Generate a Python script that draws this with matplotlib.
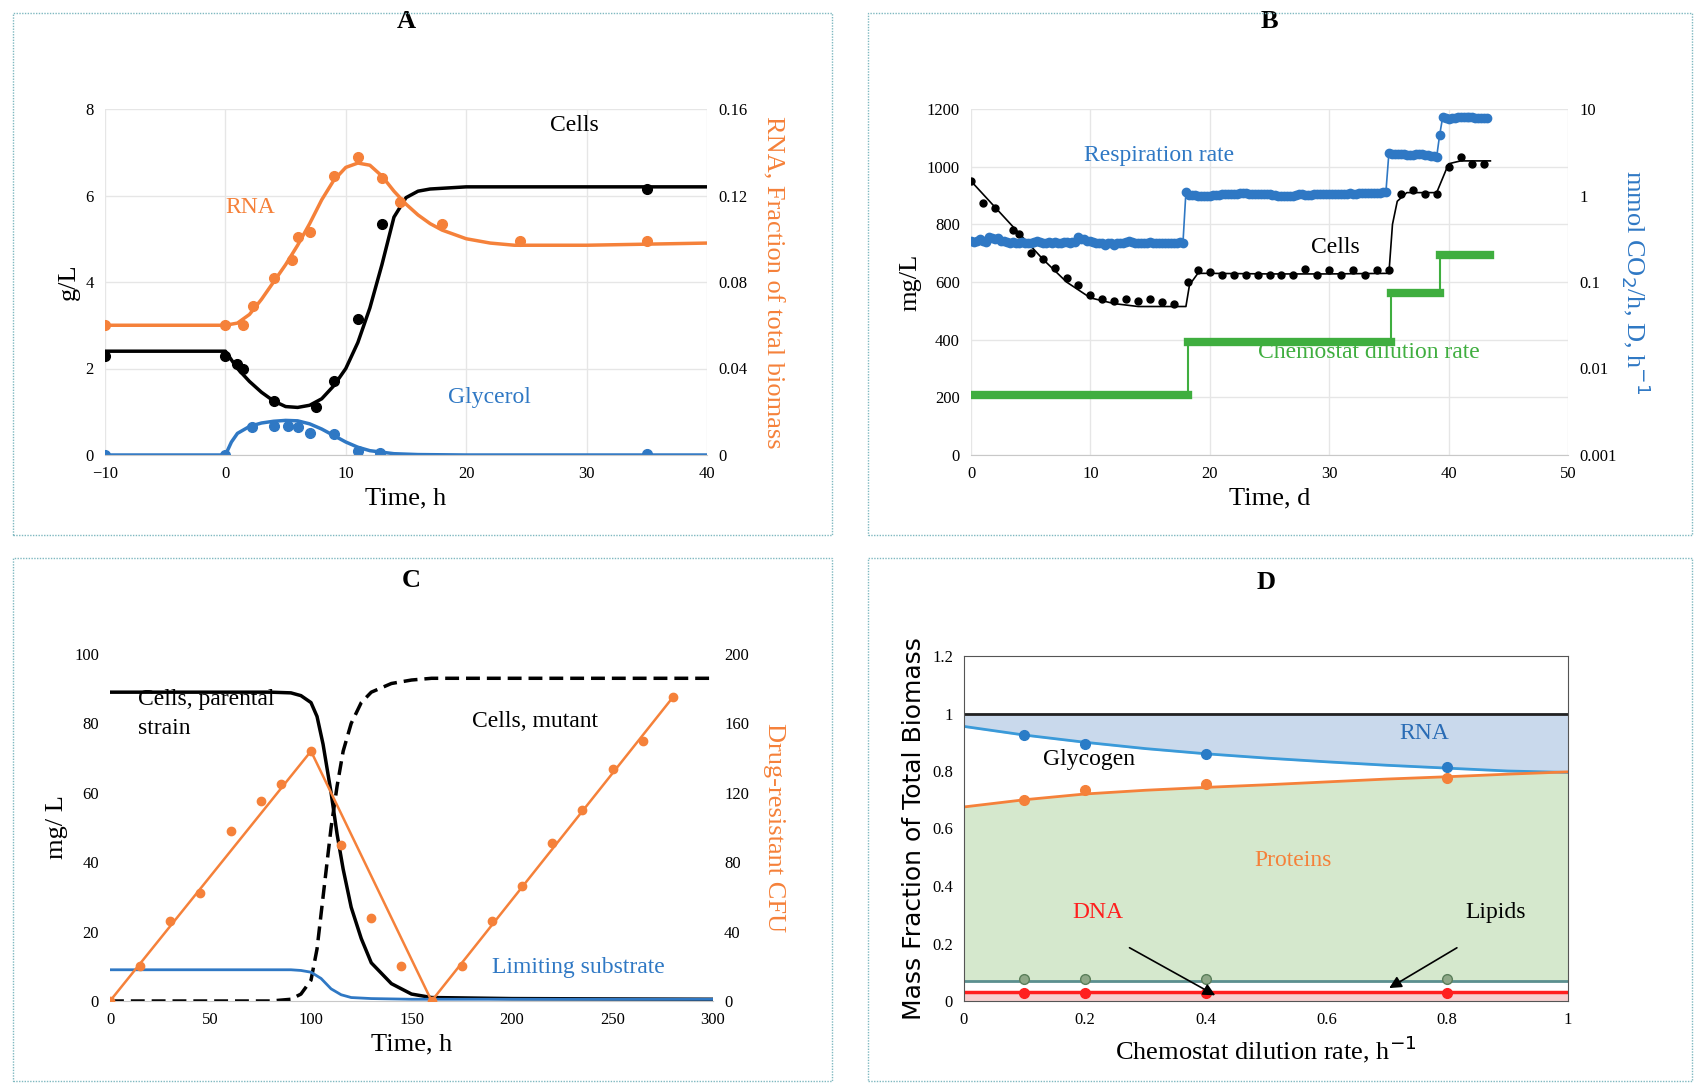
import numpy as np
import matplotlib
matplotlib.use("Agg")
import matplotlib.pyplot as plt
from matplotlib.patches import Rectangle

plt.rcParams['font.family'] = ['Liberation Serif', 'DejaVu Serif']

BLACK = '#000000'; ORANGE = '#f5813a'; BLUE = '#2f78c4'; GREEN = '#3fae3f'; RED = '#ff1f1f'

# ---------------- Panel A data ----------------
A_cells_pt_t = [-10, 0, 1, 1.5, 4, 7.5, 9, 11, 13, 35]
A_cells_pt_y = [2.3, 2.3, 2.1, 2.0, 1.25, 1.1, 1.7, 3.15, 5.35, 6.15]
A_cells_t = [-10, 0, 1, 2, 3, 4, 5, 6, 7, 8, 9, 10, 11, 12, 13, 14, 15, 16, 17, 20, 30, 40]
A_cells_y = [2.4, 2.4, 2.0, 1.7, 1.45, 1.25, 1.12, 1.1, 1.15, 1.3, 1.6, 2.0, 2.6, 3.4, 4.4, 5.5, 5.95, 6.1, 6.15, 6.2, 6.2, 6.2]
A_rna_pt_t = [-10, 0, 1.5, 2.3, 4, 5.5, 6, 7, 9, 11, 13, 14.5, 18, 24.5, 35]
A_rna_pt_y = [0.06, 0.06, 0.06, 0.069, 0.082, 0.09, 0.101, 0.103, 0.129, 0.138, 0.128, 0.117, 0.107, 0.099, 0.099]
A_rna_t = [-10, 0, 1, 2, 3, 4, 5, 6, 7, 8, 9, 10, 11, 12, 13, 14, 15, 16, 17, 18, 20, 22, 24, 26, 30, 40]
A_rna_y = [0.06, 0.06, 0.061, 0.065, 0.072, 0.08, 0.088, 0.097, 0.107, 0.118, 0.127, 0.133, 0.135, 0.134, 0.129,
           0.122, 0.116, 0.111, 0.107, 0.104, 0.1, 0.098, 0.097, 0.097, 0.097, 0.098]
A_gly_pt_t = [-10, 0, 2.2, 4, 5.2, 6, 7, 9, 11, 12.8, 35]
A_gly_pt_y = [0, 0, 0.65, 0.68, 0.68, 0.65, 0.5, 0.48, 0.1, 0.05, 0.02]
A_gly_t = [-10, 0, 0.5, 1, 2, 3, 4, 5, 6, 7, 8, 9, 10, 11, 12, 14, 16, 20, 40]
A_gly_y = [0, 0, 0.3, 0.5, 0.66, 0.74, 0.78, 0.8, 0.79, 0.72, 0.6, 0.45, 0.3, 0.18, 0.1, 0.03, 0.01, 0, 0]

# ---------------- Panel B data ----------------
B_cells_pt_t = [0, 1, 2, 3.5, 4, 5, 6, 7, 8, 9, 10, 11, 12, 13, 14, 15, 16, 17, 18.2, 19, 20, 21, 22, 23, 24, 25, 26,
                27, 28, 29, 30, 31, 32, 33, 34, 35, 36, 37, 38, 39, 40, 41, 42, 43]
B_cells_pt_y = [950, 875, 855, 780, 765, 700, 680, 650, 615, 590, 555, 540, 535, 540, 535, 540, 530, 525, 600, 640,
                635, 625, 625, 625, 625, 625, 625, 625, 645, 625, 640, 625, 640, 625, 640, 640, 905, 920, 905, 905,
                1000, 1035, 1010, 1010]
B_cells_t = [0, 2, 4, 6, 8, 10, 12, 14, 16, 18, 18.3, 19, 20, 25, 30, 35, 35.3, 35.7, 36.5, 39, 39.5, 40, 41, 43.5]
B_cells_y = [950, 860, 770, 680, 600, 545, 525, 515, 515, 515, 590, 630, 630, 628, 628, 630, 800, 880, 910, 910, 960,
             1010, 1020, 1020]
B_resp_t = np.arange(0, 43.5, 0.25)
B_resp_seg1 = [0.30, 0.29, 0.30, 0.31, 0.30, 0.29, 0.33, 0.32, 0.31, 0.32, 0.30, 0.30, 0.29, 0.28, 0.29, 0.28, 0.28,
               0.29, 0.28, 0.28, 0.28, 0.29, 0.30, 0.29, 0.28, 0.28, 0.29, 0.28, 0.29, 0.28, 0.28, 0.29, 0.29, 0.28,
               0.29, 0.29, 0.33, 0.31, 0.31, 0.30, 0.30, 0.29, 0.28, 0.28, 0.28, 0.27, 0.28, 0.28, 0.27, 0.28, 0.28,
               0.28, 0.29, 0.30, 0.29, 0.28, 0.28, 0.28, 0.28, 0.28, 0.29, 0.28, 0.28, 0.28, 0.28, 0.28, 0.28, 0.28,
               0.28, 0.28, 0.29, 0.28]
B_resp_seg2 = [1.10, 1.02, 1.02, 1.01, 1.0, 0.99, 0.99, 1.0, 1.0, 1.01, 1.02, 1.02, 1.03, 1.03, 1.04, 1.05, 1.05,
               1.05, 1.06, 1.06, 1.06, 1.05, 1.05, 1.05, 1.05, 1.04, 1.04, 1.03, 1.03, 1.02, 1.01, 1.0, 0.99, 0.98,
               0.98, 0.99, 1.0, 1.02, 1.03, 1.03, 1.02, 1.02, 1.02, 1.03, 1.03, 1.03, 1.04, 1.04, 1.03, 1.04, 1.04,
               1.05, 1.04, 1.05, 1.05, 1.06, 1.05, 1.05, 1.06, 1.06, 1.06, 1.06, 1.06, 1.07, 1.07, 1.08, 1.09, 1.1]
B_resp_seg3 = [3.1, 3.0, 3.0, 3.0, 3.0, 3.0, 2.95, 2.95, 2.95, 3.0, 3.0, 3.0, 2.95, 2.95, 2.9, 2.9, 2.8]
B_resp_seg4 = [5.0, 8.0, 7.8, 7.7, 7.8, 7.9, 8.0, 8.1, 8.0, 8.0, 8.0, 8.0, 7.9, 7.9, 7.9, 7.9, 7.8]
B_resp_y = B_resp_seg1 + B_resp_seg2 + B_resp_seg3 + B_resp_seg4
B_D_t = [0, 18.2, 18.2, 35.2, 35.2, 39.3, 39.3, 43.5]
B_D_y = [0.005, 0.005, 0.0205, 0.0205, 0.074, 0.074, 0.205, 0.205]

# ---------------- Panel C data ----------------
C_par_t = [0, 50, 80, 90, 95, 100, 103, 106, 110, 113, 116, 120, 125, 130, 140, 150, 160, 200, 300]
C_par_y = [89, 89, 89, 88.8, 88, 86, 82, 74, 60, 48, 38, 27, 18, 11, 5, 2, 1, 0.7, 0.5]
C_mut_t = [0, 80, 90, 95, 100, 103, 106, 110, 113, 116, 120, 125, 130, 140, 150, 160, 200, 300]
C_mut_y = [0, 0, 0.5, 2, 6, 15, 30, 50, 62, 72, 80, 86, 89, 91.5, 92.5, 93, 93, 93]
C_cfu_t = [0, 100, 160, 280]
C_cfu_y = [0, 144, 0, 175]
C_cfu_pt_t = [0, 15, 30, 45, 60, 75, 85, 100, 115, 130, 145, 160, 175, 190, 205, 220, 235, 250, 265, 280]
C_cfu_pt_y = [0, 20, 46, 62, 98, 115, 125, 144, 90, 48, 20, 0, 20, 46, 66, 91, 110, 134, 150, 175]
C_sub_t = [0, 90, 95, 100, 105, 110, 115, 120, 130, 150, 300]
C_sub_y = [9, 9, 8.8, 8.3, 6.5, 3.5, 1.8, 1, 0.7, 0.5, 0.5]

# ---------------- Panel D data ----------------
D_x = [0, 0.1, 0.2, 0.3, 0.4, 0.5, 0.6, 0.7, 0.8, 0.9, 1.0]
D_rna_low = [0.955, 0.925, 0.9, 0.878, 0.86, 0.845, 0.832, 0.82, 0.81, 0.8, 0.795]
D_prot_top = [0.675, 0.7, 0.72, 0.733, 0.743, 0.752, 0.762, 0.772, 0.78, 0.789, 0.797]
D_pt_x = [0.1, 0.2, 0.4, 0.8]
D_rna_pt = [0.925, 0.895, 0.86, 0.815]
D_prot_pt = [0.7, 0.735, 0.755, 0.775]
D_lipid = 0.07
D_lipid_pt = [0.075, 0.075, 0.075, 0.075]
D_dna = 0.03
D_dna_pt = [0.028, 0.028, 0.028, 0.028]

W, H = 1700, 1088
fig = plt.figure(figsize=(17, 10.88), dpi=100)

def px(x0, y0, x1, y1):
    return [x0 / W, 1 - y1 / H, (x1 - x0) / W, (y1 - y0) / H]

for (x0, y0, x1, y1) in [(13, 13, 832, 535), (868, 13, 1692, 535), (13, 558, 832, 1081), (868, 558, 1692, 1081)]:
    fig.patches.append(Rectangle((x0 / W, 1 - y1 / H), (x1 - x0) / W, (y1 - y0) / H, transform=fig.transFigure,
                                 fill=False, ec='#7fb8c0', lw=1.0, ls=(0, (1, 1))))

def style(ax, grid=True):
    for s in ['top', 'right', 'left']:
        ax.spines[s].set_visible(False)
    ax.spines['bottom'].set_color('#c8c8c8')
    ax.tick_params(length=0, labelsize=12, pad=8)
    if grid:
        ax.grid(True, color='#e6e6e6', lw=1)
        ax.set_axisbelow(True)

# ---------- A ----------
ax = fig.add_axes(px(105, 109, 707, 455))
style(ax)
ax.set_xlim(-10, 40); ax.set_ylim(0, 8)
ax.set_xticks(range(-10, 41, 10)); ax.set_yticks(range(0, 9, 2))
ax2 = ax.twinx()
ax2.set_ylim(0, 0.16); ax2.set_yticks([0, 0.04, 0.08, 0.12, 0.16])
ax2.set_yticklabels(['0', '0.04', '0.08', '0.12', '0.16'])
for s in ax2.spines.values(): s.set_visible(False)
ax2.tick_params(length=0, labelsize=12, pad=8)
ax.plot(A_cells_t, A_cells_y, color=BLACK, lw=2.5)
ax.plot(A_cells_pt_t, A_cells_pt_y, 'o', color=BLACK, ms=7)
ax.plot(A_gly_t, A_gly_y, color=BLUE, lw=2.5)
ax.plot(A_gly_pt_t, A_gly_pt_y, 'o', color=BLUE, ms=7)
ax2.plot(A_rna_t, A_rna_y, color=ORANGE, lw=2.5)
ax2.plot(A_rna_pt_t, A_rna_pt_y, 'o', color=ORANGE, ms=7)
ax.text(27, 7.5, 'Cells', fontsize=17, color=BLACK)
ax.text(0, 5.6, 'RNA', fontsize=17, color=ORANGE)
ax.text(18.5, 1.2, 'Glycerol', fontsize=17, color=BLUE)
ax.set_xlabel('Time, h', fontsize=19)
ax.set_ylabel('g/L', fontsize=19)
ax2.set_ylabel('RNA, Fraction of total biomass', fontsize=19, color=ORANGE, rotation=270, labelpad=26)
ax.set_title('A', fontsize=19, fontweight='bold', pad=58)

# ---------- B ----------
ax = fig.add_axes(px(971, 109, 1568, 455))
style(ax)
ax.set_xlim(0, 50); ax.set_ylim(0, 1200)
ax.set_xticks(range(0, 51, 10)); ax.set_yticks(range(0, 1201, 200))
ax2 = ax.twinx()
ax2.set_yscale('log'); ax2.set_ylim(0.001, 10)
ax2.set_yticks([0.001, 0.01, 0.1, 1, 10]); ax2.set_yticklabels(['0.001', '0.01', '0.1', '1', '10'])
ax2.minorticks_off()
for s in ax2.spines.values(): s.set_visible(False)
ax2.tick_params(length=0, labelsize=12, pad=8)
ax2.plot(B_D_t, B_D_y, color=GREEN, lw=1.5)
ax2.plot([0, 18.2], [0.005, 0.005], color=GREEN, lw=6)
ax2.plot([18.2, 35.2], [0.0205, 0.0205], color=GREEN, lw=6)
ax2.plot([35.2, 39.3], [0.074, 0.074], color=GREEN, lw=6)
ax2.plot([39.3, 43.5], [0.205, 0.205], color=GREEN, lw=6)
ax2.plot(B_resp_t, B_resp_y, color=BLUE, lw=1.2, marker='o', ms=6)
ax.plot(B_cells_t, B_cells_y, color=BLACK, lw=1.2)
ax.plot(B_cells_pt_t, B_cells_pt_y, 'o', color=BLACK, ms=5)
ax.text(9.5, 1020, 'Respiration rate', fontsize=17, color=BLUE)
ax.text(28.5, 700, 'Cells', fontsize=17, color=BLACK)
ax.text(24, 335, 'Chemostat dilution rate', fontsize=17, color=GREEN)
ax.set_xlabel('Time, d', fontsize=19)
ax.set_ylabel('mg/L', fontsize=19)
ax2.set_ylabel('mmol CO$_2$/h, D, h$^{-1}$', fontsize=19, color=BLUE, rotation=270, labelpad=26)
ax.set_title('B', fontsize=19, fontweight='bold', pad=58)

# ---------- C ----------
ax = fig.add_axes(px(110, 654, 713, 1001))
style(ax, grid=False)
ax.set_xlim(0, 300); ax.set_ylim(0, 100)
ax.set_xticks(range(0, 301, 50)); ax.set_yticks(range(0, 101, 20))
ax2 = ax.twinx()
ax2.set_ylim(0, 200); ax2.set_yticks(range(0, 201, 40))
for s in ax2.spines.values(): s.set_visible(False)
ax2.tick_params(length=0, labelsize=12, pad=8)
ax.plot(C_par_t, C_par_y, color=BLACK, lw=2.5)
ax.plot(C_mut_t, C_mut_y, color=BLACK, lw=2.5, ls=(0, (4, 2)))
ax.plot(C_sub_t, C_sub_y, color=BLUE, lw=2)
ax2.plot(C_cfu_t, C_cfu_y, color=ORANGE, lw=1.8)
ax2.plot(C_cfu_pt_t, C_cfu_pt_y, 'o', color=ORANGE, ms=6)
ax.text(14, 77, 'Cells, parental\nstrain', fontsize=17, color=BLACK, linespacing=1.5)
ax.text(180, 79, 'Cells, mutant', fontsize=17, color=BLACK)
ax.text(190, 8, 'Limiting substrate', fontsize=17, color=BLUE)
ax.set_xlabel('Time, h', fontsize=19)
ax.set_ylabel('mg/ L', fontsize=19)
ax2.set_ylabel('Drug-resistant CFU', fontsize=19, color=ORANGE, rotation=270, labelpad=26)
ax.set_title('C', fontsize=19, fontweight='bold', pad=48)

# ---------- D ----------
ax = fig.add_axes(px(964, 656, 1568, 1001))
ax.set_xlim(0, 1); ax.set_ylim(0, 1.2)
ax.set_xticks([0, 0.2, 0.4, 0.6, 0.8, 1]); ax.set_xticklabels(['0', '0.2', '0.4', '0.6', '0.8', '1'])
ax.set_yticks([0, 0.2, 0.4, 0.6, 0.8, 1, 1.2]); ax.set_yticklabels(['0', '0.2', '0.4', '0.6', '0.8', '1', '1.2'])
ax.tick_params(length=0, labelsize=12, pad=8)
for s in ax.spines.values(): s.set_color('#555555')
ax.fill_between(D_x, D_rna_low, 1.0, color='#c9d9ec')
ax.fill_between(D_x, D_lipid, D_prot_top, color='#d5e8cd')
ax.fill_between(D_x, 0, D_dna, color='#f6d0d0')
ax.axhline(1.0, color='#222222', lw=2)
ax.plot(D_x, D_rna_low, color='#3a9ad9', lw=2)
ax.plot(D_pt_x, D_rna_pt, 'o', color='#2a7cc7', ms=7)
ax.plot(D_x, D_prot_top, color=ORANGE, lw=2)
ax.plot(D_pt_x, D_prot_pt, 'o', color=ORANGE, ms=7)
ax.axhline(D_lipid, color='#5b8f8f', lw=2)
ax.plot(D_pt_x, D_lipid_pt, 'o', color='#8fa888', mec='#5b7f5b', ms=7)
ax.axhline(D_dna, color=RED, lw=2.5)
ax.plot(D_pt_x, D_dna_pt, 'o', color=RED, ms=7)
ax.text(0.72, 0.91, 'RNA', fontsize=17, color='#2a6cb5')
ax.text(0.13, 0.82, 'Glycogen', fontsize=17, color=BLACK)
ax.text(0.48, 0.47, 'Proteins', fontsize=17, color=ORANGE)
ax.text(0.18, 0.29, 'DNA', fontsize=17, color=RED)
ax.text(0.83, 0.29, 'Lipids', fontsize=17, color=BLACK)
ax.annotate('', xy=(0.42, 0.015), xytext=(0.27, 0.19),
            arrowprops=dict(arrowstyle='-|>', color=BLACK, lw=1.2, mutation_scale=18))
ax.annotate('', xy=(0.7, 0.04), xytext=(0.82, 0.19),
            arrowprops=dict(arrowstyle='-|>', color=BLACK, lw=1.2, mutation_scale=18))
ax.set_xlabel('Chemostat dilution rate, h$^{-1}$', fontsize=19)
ax.set_ylabel('Mass Fraction of Total Biomass', fontsize=18, family=['DejaVu Sans'])
ax.set_title('D', fontsize=19, fontweight='bold', pad=48)

fig.savefig('out.png', dpi=100)
